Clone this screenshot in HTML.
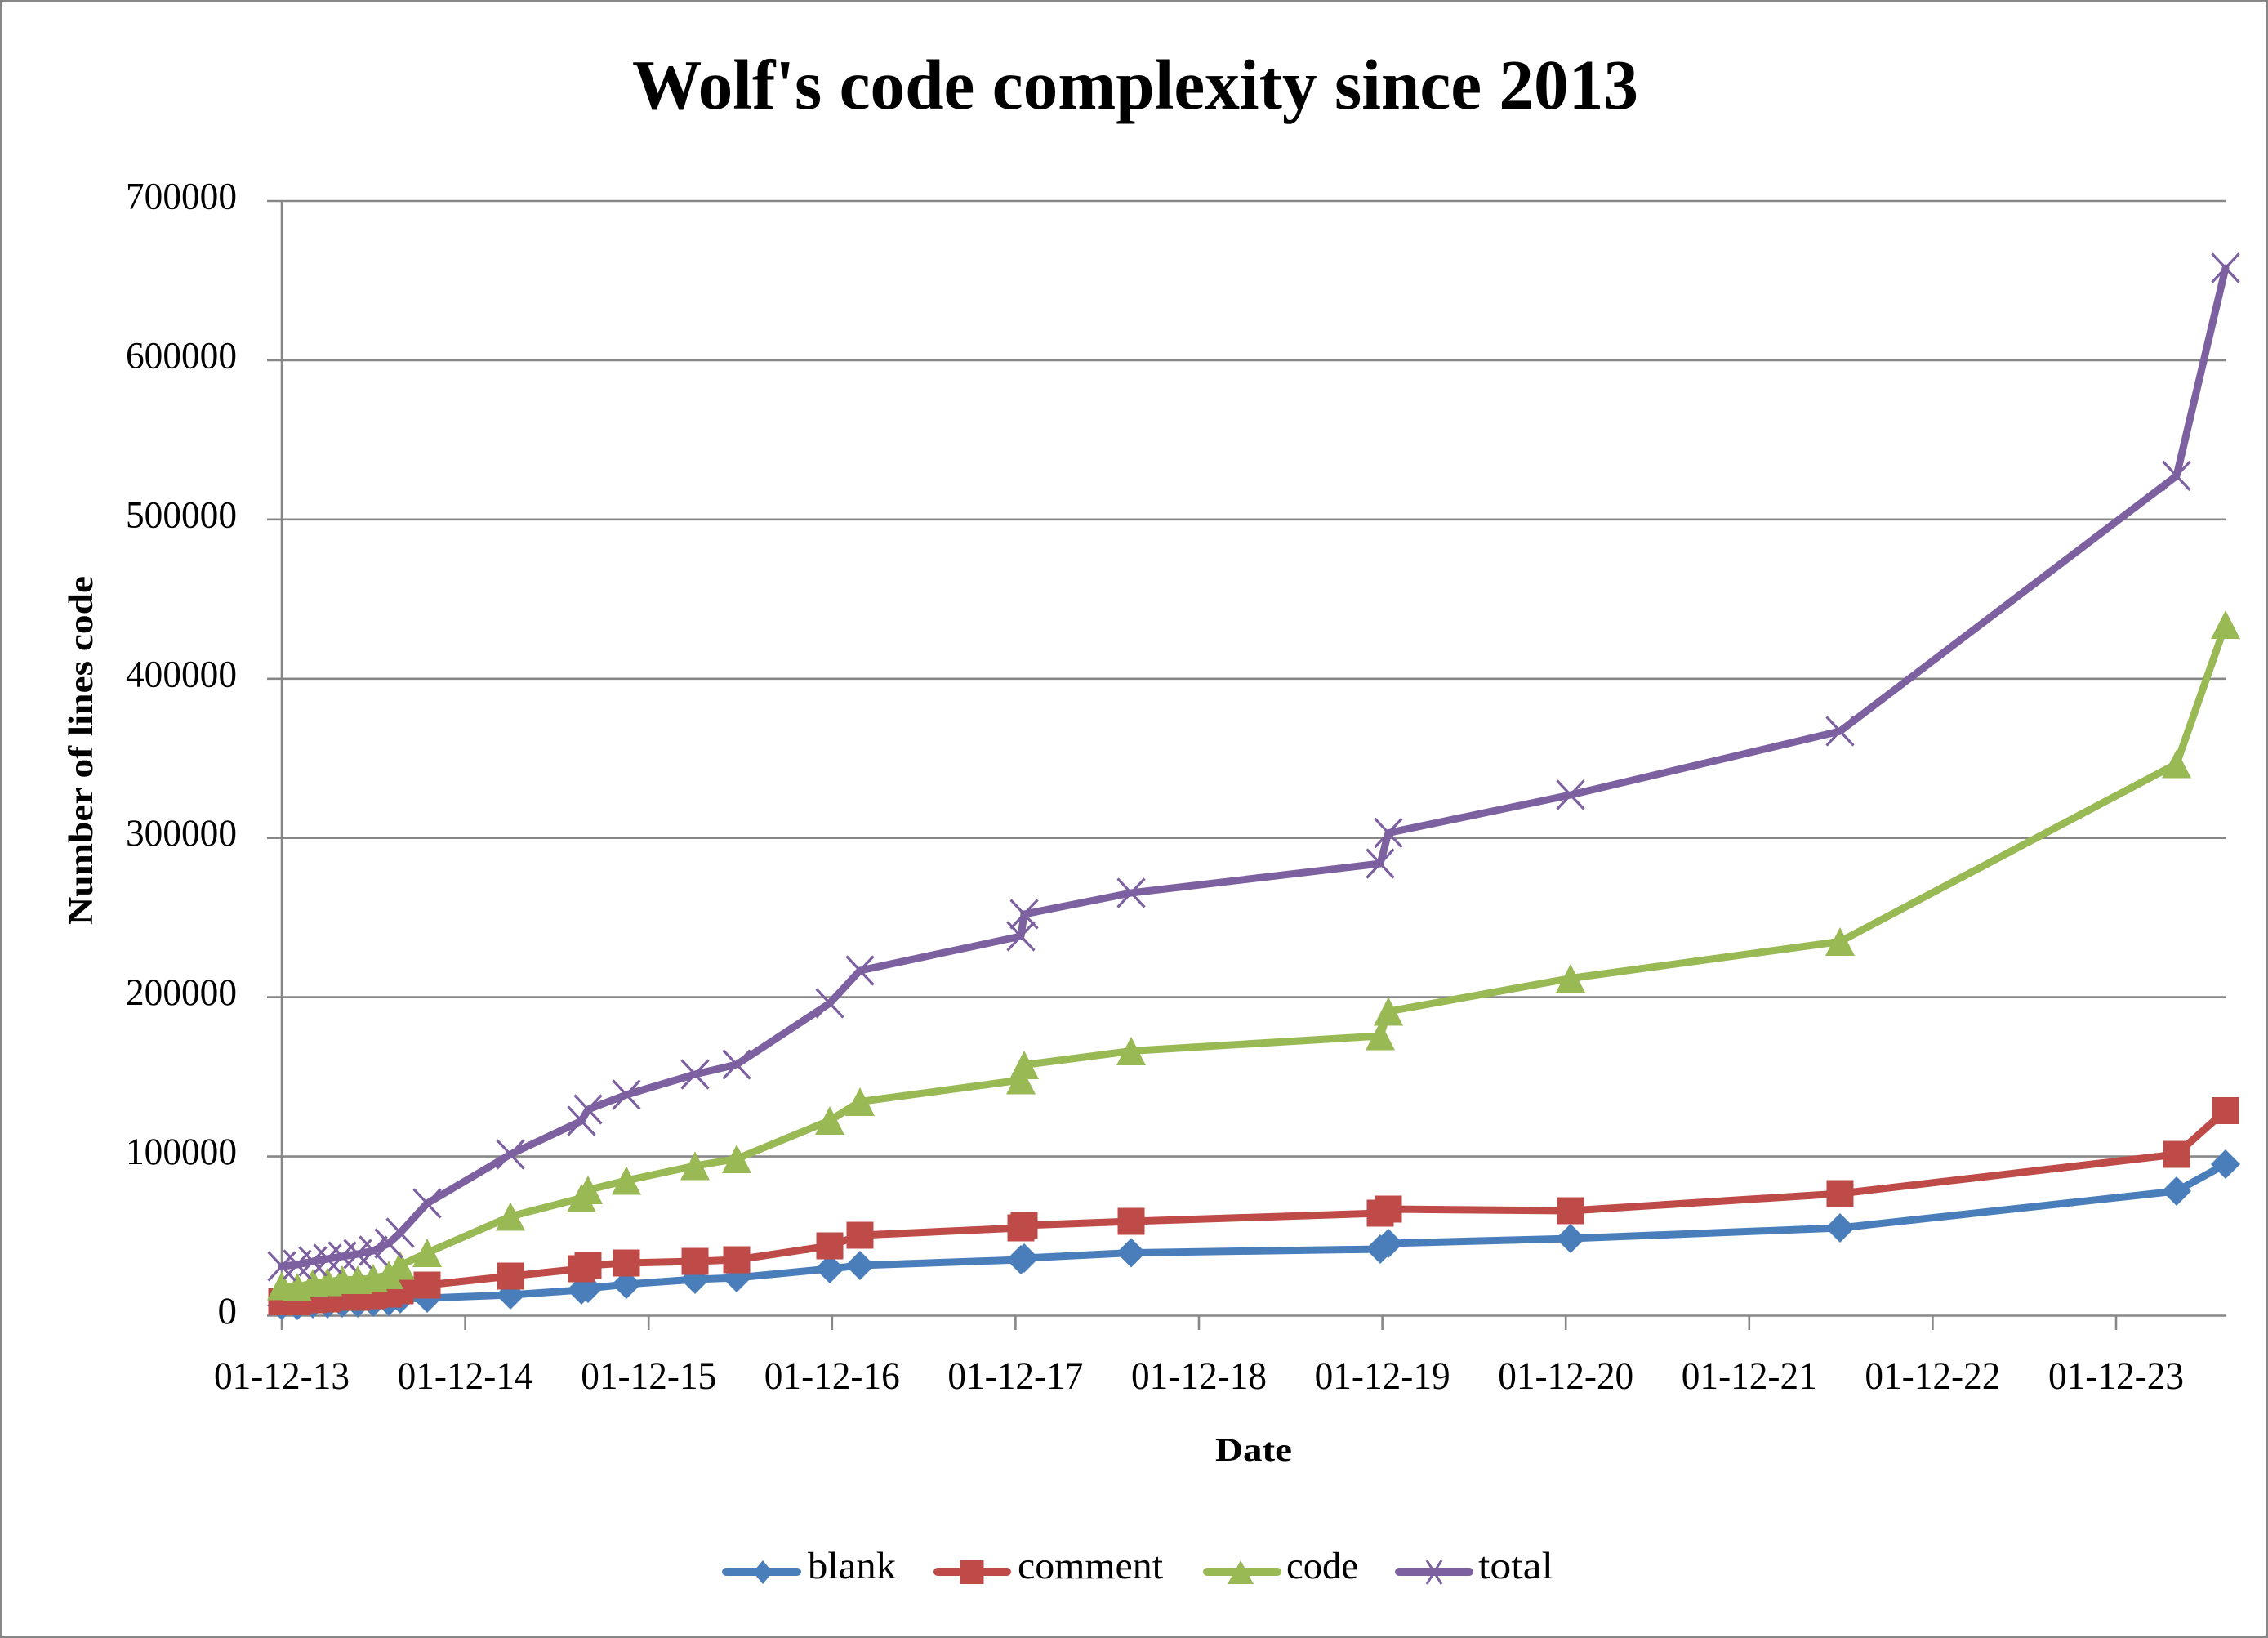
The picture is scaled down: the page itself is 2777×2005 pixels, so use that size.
<!DOCTYPE html>
<html><head><meta charset="utf-8"><style>
html,body{margin:0;padding:0;background:#fff}
svg{display:block}
text{font-family:"Liberation Serif",serif;fill:#000}
</style></head><body>
<svg width="2777" height="2005" viewBox="0 0 2777 2005" xmlns="http://www.w3.org/2000/svg">
<defs>
<path id="dia" d="M0,-18 L18,0 L0,18 L-18,0 Z" fill="#4A7EBB"/>
<rect id="sq" x="-16.5" y="-16.5" width="33" height="33" fill="#BE4B48"/>
<path id="tri" d="M0,-17.5 L18,17.5 L-18,17.5 Z" fill="#98B954"/>
<path id="xx" d="M-16.5,-17.5 L16.5,17.5 M16.5,-17.5 L-16.5,17.5" stroke="#7D60A0" stroke-width="3.2" fill="none"/>
</defs>
<rect x="0" y="0" width="2777" height="2005" fill="#fff"/>
<rect x="1.5" y="1.5" width="2774" height="2002" fill="none" stroke="#878787" stroke-width="3"/>

<text x="774" y="133" font-size="87" font-weight="bold" textLength="1232" lengthAdjust="spacingAndGlyphs">Wolf's code complexity since 2013</text>

<g stroke="#878787" stroke-width="2.6">
<line x1="327" y1="246" x2="2725" y2="246"/>
<line x1="327" y1="440.9" x2="2725" y2="440.9"/>
<line x1="327" y1="635.8" x2="2725" y2="635.8"/>
<line x1="327" y1="830.8" x2="2725" y2="830.8"/>
<line x1="327" y1="1025.7" x2="2725" y2="1025.7"/>
<line x1="327" y1="1220.6" x2="2725" y2="1220.6"/>
<line x1="327" y1="1415.6" x2="2725" y2="1415.6"/>
<line x1="327" y1="1610.5" x2="2725" y2="1610.5"/>
<line x1="345" y1="246" x2="345" y2="1628"/>
<line x1="569.6" y1="1610.5" x2="569.6" y2="1628"/>
<line x1="794.2" y1="1610.5" x2="794.2" y2="1628"/>
<line x1="1018.8" y1="1610.5" x2="1018.8" y2="1628"/>
<line x1="1243.4" y1="1610.5" x2="1243.4" y2="1628"/>
<line x1="1468" y1="1610.5" x2="1468" y2="1628"/>
<line x1="1692.6" y1="1610.5" x2="1692.6" y2="1628"/>
<line x1="1917.2" y1="1610.5" x2="1917.2" y2="1628"/>
<line x1="2141.8" y1="1610.5" x2="2141.8" y2="1628"/>
<line x1="2366.4" y1="1610.5" x2="2366.4" y2="1628"/>
<line x1="2591" y1="1610.5" x2="2591" y2="1628"/>
</g>

<g font-size="47" text-anchor="end">
<text x="290" y="255.5" textLength="136" lengthAdjust="spacingAndGlyphs">700000</text>
<text x="290" y="450.4" textLength="136" lengthAdjust="spacingAndGlyphs">600000</text>
<text x="290" y="645.3" textLength="136" lengthAdjust="spacingAndGlyphs">500000</text>
<text x="290" y="840.3" textLength="136" lengthAdjust="spacingAndGlyphs">400000</text>
<text x="290" y="1035.2" textLength="136" lengthAdjust="spacingAndGlyphs">300000</text>
<text x="290" y="1230.1" textLength="136" lengthAdjust="spacingAndGlyphs">200000</text>
<text x="290" y="1425.1" textLength="136" lengthAdjust="spacingAndGlyphs">100000</text>
<text x="290" y="1620">0</text>
</g>

<g font-size="48" text-anchor="middle">
<text x="345" y="1700" textLength="166" lengthAdjust="spacingAndGlyphs">01-12-13</text>
<text x="569.6" y="1700" textLength="166" lengthAdjust="spacingAndGlyphs">01-12-14</text>
<text x="794.2" y="1700" textLength="166" lengthAdjust="spacingAndGlyphs">01-12-15</text>
<text x="1018.8" y="1700" textLength="166" lengthAdjust="spacingAndGlyphs">01-12-16</text>
<text x="1243.4" y="1700" textLength="166" lengthAdjust="spacingAndGlyphs">01-12-17</text>
<text x="1468" y="1700" textLength="166" lengthAdjust="spacingAndGlyphs">01-12-18</text>
<text x="1692.6" y="1700" textLength="166" lengthAdjust="spacingAndGlyphs">01-12-19</text>
<text x="1917.2" y="1700" textLength="166" lengthAdjust="spacingAndGlyphs">01-12-20</text>
<text x="2141.8" y="1700" textLength="166" lengthAdjust="spacingAndGlyphs">01-12-21</text>
<text x="2366.4" y="1700" textLength="166" lengthAdjust="spacingAndGlyphs">01-12-22</text>
<text x="2591" y="1700" textLength="166" lengthAdjust="spacingAndGlyphs">01-12-23</text>
</g>

<text x="1535" y="1788" font-size="40" font-weight="bold" text-anchor="middle" textLength="94" lengthAdjust="spacingAndGlyphs">Date</text>
<text transform="translate(113,918.5) rotate(-90)" x="0" y="0" font-size="42" font-weight="bold" text-anchor="middle" textLength="427" lengthAdjust="spacingAndGlyphs">Number of lines code</text>

<!-- blank -->
<polyline fill="none" stroke="#4A7EBB" stroke-width="9" stroke-linejoin="round" stroke-linecap="round" points="345,1598 364,1598 383,1596 401,1596 419,1595 438,1595 457,1594 476,1593 490,1590 523,1589 625,1585 712,1579 720,1577 767,1572 851,1566 902,1564 1016,1553 1053,1549 1250,1542 1254,1540 1385,1533.5 1690,1529 1700,1522 1923,1516 2253,1503 2665,1458 2725,1425"/>
<g>
<use href="#dia" x="345" y="1598"/><use href="#dia" x="364" y="1598"/><use href="#dia" x="383" y="1596"/><use href="#dia" x="401" y="1596"/><use href="#dia" x="419" y="1595"/><use href="#dia" x="438" y="1595"/><use href="#dia" x="457" y="1594"/><use href="#dia" x="476" y="1593"/><use href="#dia" x="490" y="1590"/><use href="#dia" x="523" y="1589"/><use href="#dia" x="625" y="1585"/><use href="#dia" x="712" y="1579"/><use href="#dia" x="720" y="1577"/><use href="#dia" x="767" y="1572"/><use href="#dia" x="851" y="1566"/><use href="#dia" x="902" y="1564"/><use href="#dia" x="1016" y="1553"/><use href="#dia" x="1053" y="1549"/><use href="#dia" x="1250" y="1542"/><use href="#dia" x="1254" y="1540"/><use href="#dia" x="1385" y="1533.5"/><use href="#dia" x="1690" y="1529"/><use href="#dia" x="1700" y="1522"/><use href="#dia" x="1923" y="1516"/><use href="#dia" x="2253" y="1503"/><use href="#dia" x="2665" y="1458"/><use href="#dia" x="2725" y="1425"/>
</g>

<!-- comment -->
<polyline fill="none" stroke="#BE4B48" stroke-width="9" stroke-linejoin="round" stroke-linecap="round" points="345,1593.5 364,1593.5 383,1591 401,1590 419,1588 438,1588 457,1586 476,1584 490,1580 523,1573 625,1562 712,1553 720,1549 767,1546 851,1544 902,1542 1016,1525 1053,1512 1250,1503 1254,1500 1385,1495 1690,1485 1700,1480 1923,1482 2253,1461 2665,1413 2725,1359.5"/>
<g>
<use href="#sq" x="345" y="1593.5"/><use href="#sq" x="364" y="1593.5"/><use href="#sq" x="383" y="1591"/><use href="#sq" x="401" y="1590"/><use href="#sq" x="419" y="1588"/><use href="#sq" x="438" y="1588"/><use href="#sq" x="457" y="1586"/><use href="#sq" x="476" y="1584"/><use href="#sq" x="490" y="1580"/><use href="#sq" x="523" y="1573"/><use href="#sq" x="625" y="1562"/><use href="#sq" x="712" y="1553"/><use href="#sq" x="720" y="1549"/><use href="#sq" x="767" y="1546"/><use href="#sq" x="851" y="1544"/><use href="#sq" x="902" y="1542"/><use href="#sq" x="1016" y="1525"/><use href="#sq" x="1053" y="1512"/><use href="#sq" x="1250" y="1503"/><use href="#sq" x="1254" y="1500"/><use href="#sq" x="1385" y="1495"/><use href="#sq" x="1690" y="1485"/><use href="#sq" x="1700" y="1480"/><use href="#sq" x="1923" y="1482"/><use href="#sq" x="2253" y="1461"/><use href="#sq" x="2665" y="1413"/><use href="#sq" x="2725" y="1359.5"/>
</g>

<!-- code -->
<polyline fill="none" stroke="#98B954" stroke-width="9" stroke-linejoin="round" stroke-linecap="round" points="345,1574 364,1575.5 383,1570.5 401,1569 419,1566.5 438,1566.5 457,1564.5 476,1560.5 490,1549 523,1533.5 625,1489 712,1466.5 720,1456.5 767,1445 851,1427 902,1418.5 1016,1371.5 1053,1348.5 1250,1322 1254,1303.5 1385,1286.5 1690,1268 1700,1238 1923,1197.5 2253,1152.5 2665,935 2725,764.5"/>
<g>
<use href="#tri" x="345" y="1574"/><use href="#tri" x="364" y="1575.5"/><use href="#tri" x="383" y="1570.5"/><use href="#tri" x="401" y="1569"/><use href="#tri" x="419" y="1566.5"/><use href="#tri" x="438" y="1566.5"/><use href="#tri" x="457" y="1564.5"/><use href="#tri" x="476" y="1560.5"/><use href="#tri" x="490" y="1549"/><use href="#tri" x="523" y="1533.5"/><use href="#tri" x="625" y="1489"/><use href="#tri" x="712" y="1466.5"/><use href="#tri" x="720" y="1456.5"/><use href="#tri" x="767" y="1445"/><use href="#tri" x="851" y="1427"/><use href="#tri" x="902" y="1418.5"/><use href="#tri" x="1016" y="1371.5"/><use href="#tri" x="1053" y="1348.5"/><use href="#tri" x="1250" y="1322"/><use href="#tri" x="1254" y="1303.5"/><use href="#tri" x="1385" y="1286.5"/><use href="#tri" x="1690" y="1268"/><use href="#tri" x="1700" y="1238"/><use href="#tri" x="1923" y="1197.5"/><use href="#tri" x="2253" y="1152.5"/><use href="#tri" x="2665" y="935"/><use href="#tri" x="2725" y="764.5"/>
</g>

<!-- total -->
<polyline fill="none" stroke="#7D60A0" stroke-width="9" stroke-linejoin="round" stroke-linecap="round" points="345,1550 364,1548 383,1544 401,1541 419,1538 438,1535 457,1531 476,1522 490,1509 523,1473 625,1413 712,1372 720,1358 767,1340 851,1315 902,1303 1016,1228 1053,1188 1250,1146 1254,1119 1385,1093 1690,1057 1700,1019.5 1923,973 2253,895 2665,582.5 2725,328"/>
<g>
<use href="#xx" x="345" y="1550"/><use href="#xx" x="364" y="1548"/><use href="#xx" x="383" y="1544"/><use href="#xx" x="401" y="1541"/><use href="#xx" x="419" y="1538"/><use href="#xx" x="438" y="1535"/><use href="#xx" x="457" y="1531"/><use href="#xx" x="476" y="1522"/><use href="#xx" x="490" y="1509"/><use href="#xx" x="523" y="1473"/><use href="#xx" x="625" y="1413"/><use href="#xx" x="712" y="1372"/><use href="#xx" x="720" y="1358"/><use href="#xx" x="767" y="1340"/><use href="#xx" x="851" y="1315"/><use href="#xx" x="902" y="1303"/><use href="#xx" x="1016" y="1228"/><use href="#xx" x="1053" y="1188"/><use href="#xx" x="1250" y="1146"/><use href="#xx" x="1254" y="1119"/><use href="#xx" x="1385" y="1093"/><use href="#xx" x="1690" y="1057"/><use href="#xx" x="1700" y="1019.5"/><use href="#xx" x="1923" y="973"/><use href="#xx" x="2253" y="895"/><use href="#xx" x="2665" y="582.5"/><use href="#xx" x="2725" y="328"/>
</g>

<!-- legend -->
<g stroke-width="10" stroke-linecap="round">
<line x1="889" y1="1924" x2="976" y2="1924" stroke="#4A7EBB"/>
<line x1="1148" y1="1924" x2="1233" y2="1924" stroke="#BE4B48"/>
<line x1="1478" y1="1924" x2="1564" y2="1924" stroke="#98B954"/>
<line x1="1713" y1="1924" x2="1799" y2="1924" stroke="#7D60A0"/>
</g>
<path d="M934,1910 L946,1924.5 L934,1939 L922,1924.5 Z" fill="#4A7EBB"/>
<rect x="1175.5" y="1910" width="29" height="29" fill="#BE4B48"/>
<path d="M1519,1910 L1535,1939 L1503,1939 Z" fill="#98B954"/>
<path d="M1747,1910 L1765,1939 M1765,1910 L1747,1939" stroke="#7D60A0" stroke-width="3" fill="none"/>
<g font-size="47">
<text x="989" y="1932" textLength="108" lengthAdjust="spacingAndGlyphs">blank</text>
<text x="1246" y="1932" textLength="178" lengthAdjust="spacingAndGlyphs">comment</text>
<text x="1575" y="1932" textLength="88" lengthAdjust="spacingAndGlyphs">code</text>
<text x="1810" y="1932" textLength="92" lengthAdjust="spacingAndGlyphs">total</text>
</g>
</svg>
</body></html>
